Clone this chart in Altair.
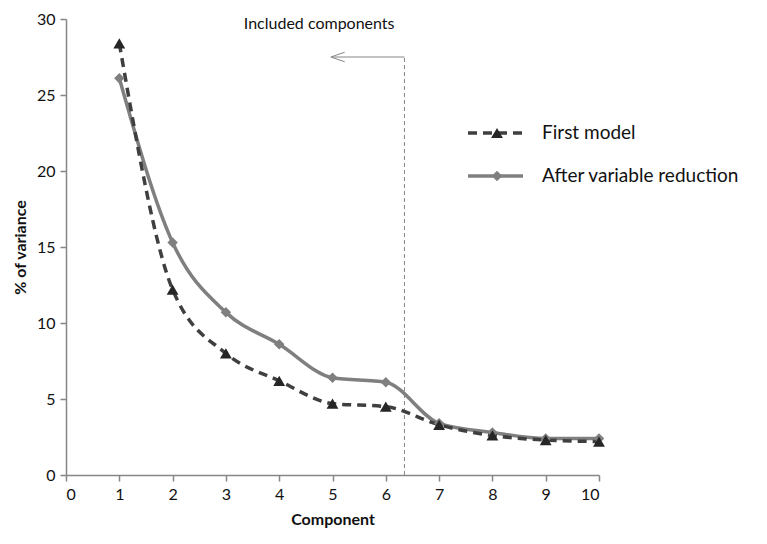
import altair as alt
import pandas as pd

components = list(range(1, 11))
first_model = [28.4, 12.2, 8.0, 6.2, 4.7, 4.5, 3.3, 2.6, 2.3, 2.2]
after_reduction = [26.1, 15.3, 10.7, 8.6, 6.4, 6.1, 3.4, 2.8, 2.4, 2.4]
x_ticks = list(range(0, 11))
y_ticks = [0, 5, 10, 15, 20, 25, 30]
cutoff_x = 6.35
arrow_tip_x = 5.0
arrow_y = 27.5
annotation = "Included components"
annotation_x = 4.75
annotation_y = 29.7
legend_labels = ["First model", "After variable reduction"]

FONT = "Lato"
DARK = "#3f3f3f"
MID = "#7f7f7f"
AXIS = "#868686"

df = pd.DataFrame({"Component": components, "First": first_model, "After": after_reduction})

xs = alt.Scale(domain=[0, 10], nice=False)
ys = alt.Scale(domain=[0, 30], nice=False)

xax = alt.Axis(values=x_ticks, title="Component", format="d")
yax = alt.Axis(values=y_ticks, title="% of variance", format="d")

base = alt.Chart(df)

line_after = base.mark_line(color=MID, strokeWidth=3.5, interpolate="monotone").encode(
    x=alt.X("Component:Q", scale=xs, axis=xax),
    y=alt.Y("After:Q", scale=ys, axis=yax),
)
line_first = base.mark_line(color=DARK, strokeWidth=3.5, strokeDash=[9, 6], interpolate="monotone").encode(
    x=alt.X("Component:Q", scale=xs),
    y=alt.Y("First:Q", scale=ys),
)
pts_after = base.mark_point(shape="diamond", filled=True, color=MID, size=110, opacity=1).encode(
    x=alt.X("Component:Q", scale=xs),
    y=alt.Y("After:Q", scale=ys),
)
pts_first = base.mark_point(shape="triangle-up", filled=True, color="#262626", size=140, opacity=1).encode(
    x=alt.X("Component:Q", scale=xs),
    y=alt.Y("First:Q", scale=ys),
)

ann = pd.DataFrame({
    "cx": [cutoff_x], "y0": [0], "y1": [arrow_y], "tip": [arrow_tip_x],
    "tx": [annotation_x], "ty": [annotation_y], "label": [annotation],
})
ab = alt.Chart(ann)
vline = ab.mark_rule(color=AXIS, strokeWidth=1, strokeDash=[4, 3]).encode(
    x=alt.X("cx:Q", scale=xs), y=alt.Y("y0:Q", scale=ys), y2="y1:Q"
)
arrow_shaft = ab.mark_rule(color=AXIS, strokeWidth=1).encode(
    x=alt.X("tip:Q", scale=xs), x2="cx:Q", y=alt.Y("y1:Q", scale=ys)
)
arrow_head = ab.mark_point(
    shape="M-1,0L0.6,-0.55M-1,0L0.6,0.55", filled=False, color=AXIS, strokeWidth=1, size=300, opacity=1
).encode(x=alt.X("tip:Q", scale=xs), y=alt.Y("y1:Q", scale=ys), xOffset=alt.value(7))
ann_text = ab.mark_text(font=FONT, fontSize=16, color="#111", align="center", baseline="middle").encode(
    x=alt.X("tx:Q", scale=xs), y=alt.Y("ty:Q", scale=ys), text="label:N"
)

# legend (drawn manually to match the original style)
leg = pd.DataFrame({"label": legend_labels})
leg1 = alt.Chart(leg.iloc[[0]])
leg2 = alt.Chart(leg.iloc[[1]])
l1_line = leg1.mark_rule(color=DARK, strokeWidth=3.5, strokeDash=[9, 6]).encode(
    x=alt.value(402), x2=alt.value(457), y=alt.value(114))
l1_pt = leg1.mark_point(shape="triangle-up", filled=True, color="#262626", size=140, opacity=1).encode(
    x=alt.value(431), y=alt.value(114))
l1_txt = leg1.mark_text(font=FONT, fontSize=19, color="#111", align="left", baseline="middle").encode(
    x=alt.value(476), y=alt.value(114), text="label:N")
l2_line = leg2.mark_rule(color=MID, strokeWidth=3.5).encode(
    x=alt.value(402), x2=alt.value(457), y=alt.value(157))
l2_pt = leg2.mark_point(shape="diamond", filled=True, color=MID, size=110, opacity=1).encode(
    x=alt.value(431), y=alt.value(157))
l2_txt = leg2.mark_text(font=FONT, fontSize=19, color="#111", align="left", baseline="middle").encode(
    x=alt.value(476), y=alt.value(157), text="label:N")

chart = alt.layer(
    vline, arrow_shaft, arrow_head, ann_text,
    line_after, line_first, pts_after, pts_first,
    l1_line, l1_pt, l1_txt, l2_line, l2_pt, l2_txt,
).properties(
    width=533, height=456,
    autosize=alt.AutoSizeParams(type="none"),
    padding={"left": 58, "top": 11, "right": 160, "bottom": 61},
).configure_view(stroke=None, clip=False).configure_axis(
    grid=False, domainColor=AXIS, tickColor=AXIS, tickSize=6, domainWidth=1.5, tickWidth=1.5,
    labelFont=FONT, labelFontSize=16, labelColor="#111", labelPadding=5,
    titleFont=FONT, titleFontSize=16, titleFontWeight="bold", titleColor="#111",
).configure_axisX(titlePadding=9).configure_axisY(titlePadding=8)

chart.save("out.html", embed_options={"renderer": "svg", "actions": False})
